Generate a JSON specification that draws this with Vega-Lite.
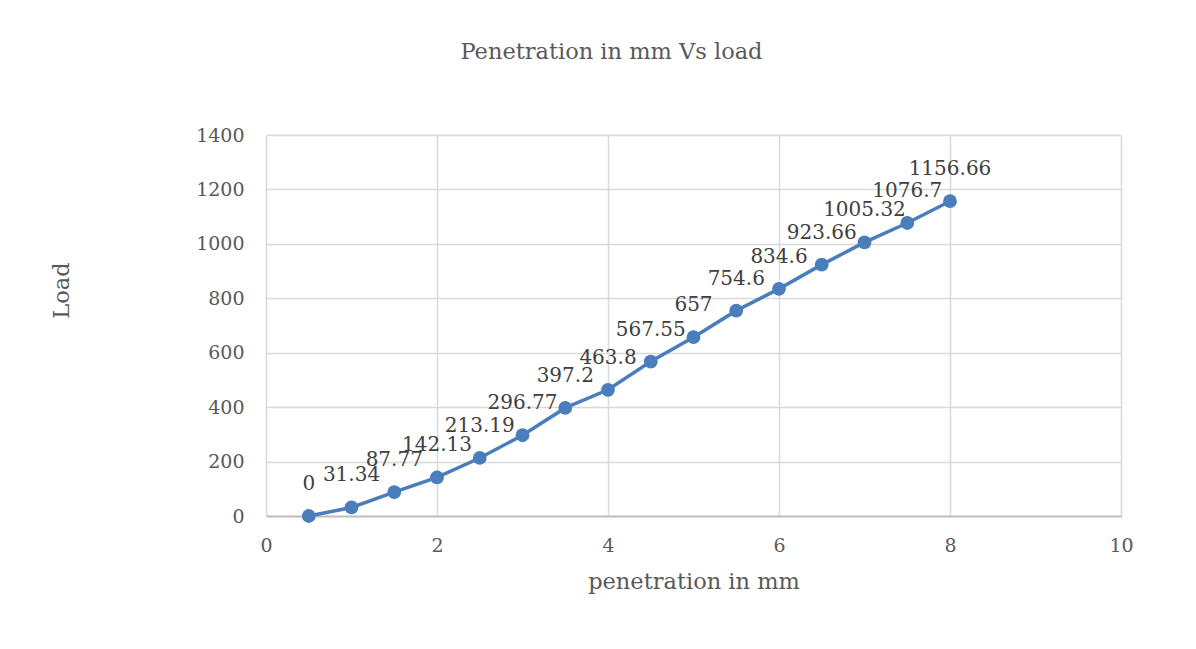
{
  "$schema": "https://vega.github.io/schema/vega-lite/v6.json",
  "width": 855,
  "height": 381,
  "autosize": "none",
  "padding": {"left": 266, "top": 135, "right": 75, "bottom": 133},
  "background": "white",
  "title": {
    "text": "Penetration in mm Vs load",
    "font": "DejaVu Serif",
    "fontSize": 22.5,
    "fontWeight": "normal",
    "color": "#595959",
    "anchor": "middle",
    "frame": "group",
    "dx": -82,
    "offset": 63
  },
  "config": {
    "view": {"stroke": null},
    "axis": {
      "labelFont": "DejaVu Serif",
      "titleFont": "DejaVu Serif",
      "labelFontSize": 19,
      "titleFontSize": 22.5,
      "labelColor": "#595959",
      "titleColor": "#595959",
      "titleFontWeight": "normal",
      "gridColor": "#d9d9d9",
      "gridWidth": 1.5,
      "ticks": false,
      "domainColor": "#bfbfbf",
      "domainWidth": 2
    }
  },
  "data": {
    "values": [
      {"penetration": 0.5, "load": 0},
      {"penetration": 1.0, "load": 31.34},
      {"penetration": 1.5, "load": 87.77},
      {"penetration": 2.0, "load": 142.13},
      {"penetration": 2.5, "load": 213.19},
      {"penetration": 3.0, "load": 296.77},
      {"penetration": 3.5, "load": 397.2},
      {"penetration": 4.0, "load": 463.8},
      {"penetration": 4.5, "load": 567.55},
      {"penetration": 5.0, "load": 657},
      {"penetration": 5.5, "load": 754.6},
      {"penetration": 6.0, "load": 834.6},
      {"penetration": 6.5, "load": 923.66},
      {"penetration": 7.0, "load": 1005.32},
      {"penetration": 7.5, "load": 1076.7},
      {"penetration": 8.0, "load": 1156.66}
    ]
  },
  "encoding": {
    "x": {
      "field": "penetration",
      "type": "quantitative",
      "scale": {"domain": [0, 10], "nice": false},
      "axis": {
        "values": [0, 2, 4, 6, 8, 10],
        "format": "d",
        "title": "penetration in mm",
        "labelPadding": 20,
        "titlePadding": 15,
        "labelFlush": false
      }
    },
    "y": {
      "field": "load",
      "type": "quantitative",
      "scale": {"domain": [0, 1400], "nice": false},
      "axis": {
        "values": [0, 200, 400, 600, 800, 1000, 1200, 1400],
        "format": "d",
        "title": "Load",
        "labelPadding": 22,
        "titlePadding": 122,
        "titleY": 155,
        "domain": false
      }
    }
  },
  "layer": [
    {
      "mark": {"type": "line", "color": "#4a7ebb", "strokeWidth": 3.5}
    },
    {
      "mark": {"type": "point", "filled": true, "opacity": 1, "color": "#4a7ebb", "size": 190}
    },
    {
      "mark": {"type": "text", "font": "DejaVu Serif", "fontSize": 20, "color": "#404040", "dy": -32, "baseline": "middle"},
      "encoding": {"text": {"field": "load", "type": "quantitative"}}
    }
  ]
}
